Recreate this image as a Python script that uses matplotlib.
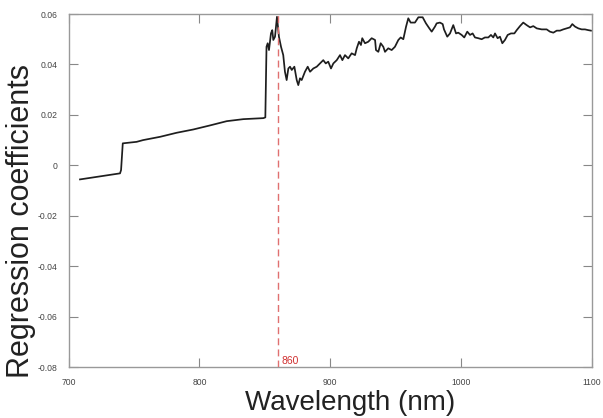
import matplotlib
matplotlib.use("Agg")
import matplotlib.pyplot as plt

wavelength = [708.7, 739.3, 740.1, 741.4, 752.0, 757.0, 770.0, 782.6, 795.3, 808.0, 820.9, 833.6, 848.9,
              850.4, 851.3, 852.2, 853.2, 854.7, 855.7, 856.5, 857.8, 859.3, 860.8, 862.4, 864.1, 865.4, 866.7,
              868.0, 869.3, 870.6, 872.6, 874.4, 875.6, 876.9, 878.2, 880.7, 882.8, 884.6, 887.1, 889.7,
              892.2, 894.7, 896.6, 898.5, 900.6, 902.4, 905.0, 907.5, 909.3, 911.3, 913.8, 916.4, 919.0,
              920.3, 922.0, 923.5, 924.5, 926.6, 929.1, 931.7, 934.3, 935.0, 936.8, 938.6, 940.6, 941.9,
              944.4, 947.0, 949.5, 952.1, 953.9, 955.9, 958.0, 959.7, 961.5, 964.8, 967.4, 970.7, 973.2,
              975.8, 977.6, 980.1, 981.4, 983.9, 986.0, 987.0, 989.5, 991.6, 994.1, 996.2, 997.9, 1000.5,
              1002.5, 1004.8, 1006.9, 1008.9, 1010.7, 1013.2, 1015.8, 1018.3, 1020.9, 1022.9, 1024.7,
              1026.0, 1028.0, 1029.8, 1031.6, 1033.6, 1035.7, 1038.2, 1040.8, 1042.6, 1045.1, 1047.6,
              1050.2, 1052.8, 1055.3, 1057.9, 1061.7, 1065.5, 1068.0, 1070.6, 1073.2, 1075.7, 1078.2,
              1080.8, 1083.3, 1085.1, 1087.2, 1089.7, 1092.3, 1094.8, 1097.3, 1099.4]
coefficients = [-0.0056, -0.0032, -0.0019, 0.0087, 0.0093, 0.0100, 0.0113, 0.0129, 0.0142, 0.0158, 0.0175,
                0.0183, 0.0187,
                0.0190, 0.0470, 0.0484, 0.0457, 0.0523, 0.0536, 0.0497, 0.0510, 0.0589, 0.0510, 0.0470, 0.0437,
                0.0371, 0.0338, 0.0384, 0.0391, 0.0378, 0.0391, 0.0338, 0.0318, 0.0345, 0.0338, 0.0371,
                0.0391, 0.0371, 0.0384, 0.0391, 0.0404, 0.0417, 0.0404, 0.0411, 0.0384, 0.0404, 0.0417,
                0.0437, 0.0417, 0.0437, 0.0424, 0.0444, 0.0437, 0.0464, 0.0490, 0.0477, 0.0504, 0.0484,
                0.0490, 0.0504, 0.0497, 0.0457, 0.0450, 0.0484, 0.0470, 0.0450, 0.0464, 0.0457, 0.0470,
                0.0497, 0.0507, 0.0500, 0.0550, 0.0583, 0.0566, 0.0566, 0.0587, 0.0587, 0.0563, 0.0543,
                0.0530, 0.0550, 0.0563, 0.0566, 0.0560, 0.0539, 0.0510, 0.0523, 0.0556, 0.0523, 0.0526,
                0.0517, 0.0507, 0.0530, 0.0517, 0.0523, 0.0507, 0.0504, 0.0500, 0.0507, 0.0507, 0.0517,
                0.0507, 0.0523, 0.0504, 0.0510, 0.0484, 0.0497, 0.0517, 0.0523, 0.0523, 0.0536, 0.0552,
                0.0566, 0.0556, 0.0547, 0.0552, 0.0543, 0.0539, 0.0539, 0.0530, 0.0526, 0.0534, 0.0534,
                0.0539, 0.0543, 0.0547, 0.0560, 0.0550, 0.0543, 0.0539, 0.0539, 0.0536, 0.0534]

xticks = [700, 800, 900, 1000, 1100]
xtick_labels = ["700", "800", "900", "1000", "1100"]
yticks = [0.06, 0.04, 0.02, 0.0, -0.02, -0.04, -0.06, -0.08]
ytick_labels = ["0.06", "0.04", "0.02", "0", "-0.02", "-0.04", "-0.06", "-0.08"]
marker_wavelength = 860
marker_label = "860"

plt.rcParams['font.family'] = ['Liberation Sans', 'DejaVu Sans']

fig = plt.figure(figsize=(6.03, 4.18), dpi=100)
ax = fig.add_axes([0.1138, 0.122, 0.8676, 0.8445])

ax.plot(wavelength, coefficients, color='#1e1e1e', linewidth=1.25, zorder=2)
ax.axvline(marker_wavelength, color='#e07070', linestyle=(0, (5, 3)), linewidth=1.0, zorder=3)
ax.text(marker_wavelength + 3, -0.0797, marker_label, color='#d03030', fontsize=7.5,
        ha='left', va='bottom')

ax.set_xlim(700, 1100)
ax.set_ylim(-0.08, 0.06)
ax.set_xticks(xticks)
ax.set_xticklabels(xtick_labels)
ax.set_yticks(yticks)
ax.set_yticklabels(ytick_labels)

ax.tick_params(direction='in', length=6.5, width=0.8, color='#888888', labelcolor='#444444',
               labelsize=6.2, top=True, right=True)
ax.tick_params(axis='x', pad=8)
ax.tick_params(axis='y', pad=8)
for s in ax.spines.values():
    s.set_color('#999999')
    s.set_linewidth(1.0)

fig.text(350 / 603, 1 - 410 / 418, "Wavelength (nm)", fontsize=20, color='#222222',
         ha='center', va='baseline')
fig.text(21 / 603, 1 - 221 / 418, "Regression coefficients", fontsize=22, color='#222222',
         ha='center', va='center', rotation=90)

fig.savefig("out.png", dpi=100)
